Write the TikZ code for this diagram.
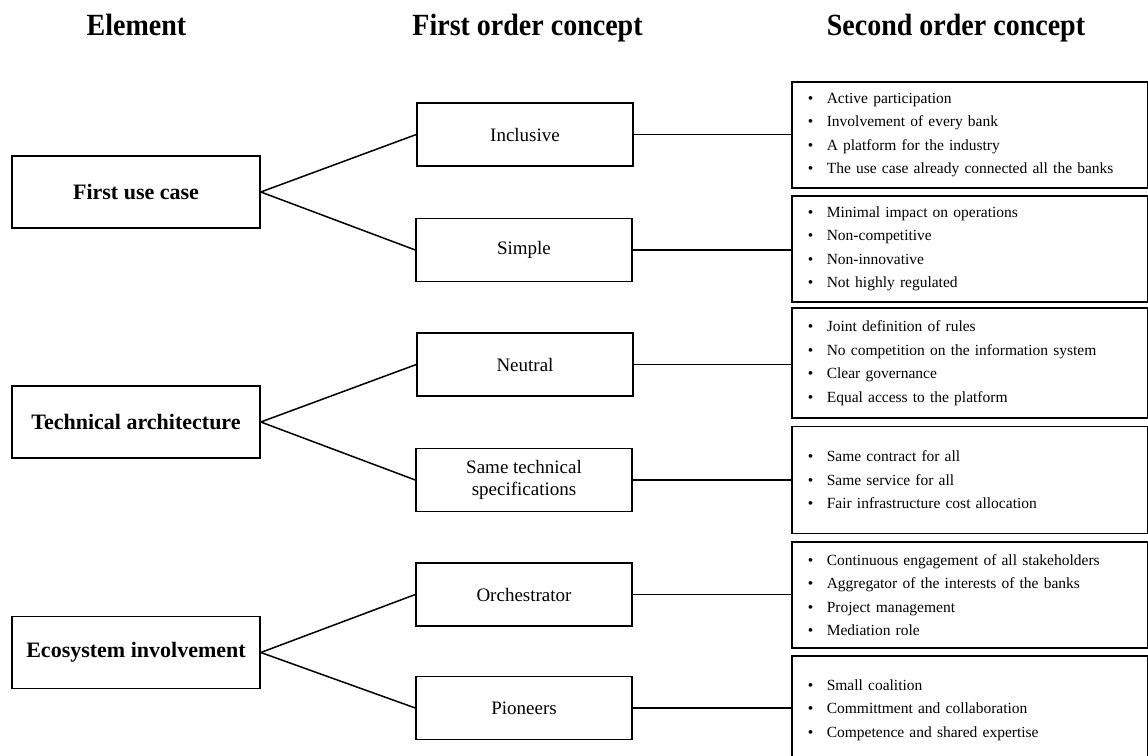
\documentclass[tikz,border=0pt]{standalone}
\usepackage{fontspec}
\setmainfont{Liberation Serif}
\newcommand\bul{\makebox[19pt][l]{\textbullet}}
\newcommand\tallhead[1]{\scalebox{1}[1.1]{#1}}
\begin{document}
\begin{tikzpicture}[x=1pt,y=-1pt,
 elem/.style={draw, line width=1.6pt, minimum width=248pt, minimum height=72pt, inner sep=0pt, font=\fontsize{22}{26}\selectfont\bfseries},
 first/.style={draw, line width=1.4pt, minimum width=216pt, minimum height=63pt, inner sep=0pt, align=center, font=\fontsize{19}{21.5}\selectfont},
 second/.style={draw, line width=1.6pt, anchor=west, text width=324pt, inner xsep=16pt, inner ysep=0pt, align=left, font=\fontsize{15.5}{23.5}\selectfont},
 head/.style={font=\fontsize{28}{32}\selectfont\bfseries, anchor=base},
 link/.style={line width=1.5pt}]
\clip (0,0) rectangle (1148,755);
\fill[white] (0,0) rectangle (1148,755);
% headers
\node[head] (h1) at (136.5,35) {\tallhead{Element}};
\node[head] (h2) at (527.5,35) {\tallhead{First order concept}};
\node[head] (h3) at (956,35) {\tallhead{Second order concept}};
% elements
\node[elem] (e1) at (136,192) {First use case};
\node[elem] (e2) at (136,422) {Technical architecture};
\node[elem] (e3) at (136,652.5) {Ecosystem involvement};
% first order
\node[first] (f1) at (525,134.5) {Inclusive};
\node[first] (f2) at (524,250) {Simple};
\node[first] (f3) at (525,364.5) {Neutral};
\node[first] (f4) at (524,480) {Same technical\\specifications};
\node[first] (f5) at (524,594.5) {Orchestrator};
\node[first] (f6) at (524,708) {Pioneers};
% second order
\node[second, minimum height=106pt] (s1) at (791,135) {\bul Active participation\\\bul Involvement of every bank\\\bul A platform for the industry\\\bul The use case already connected all the banks};
\node[second, minimum height=106pt] (s2) at (791,249) {\bul Minimal impact on operations\\\bul Non-competitive\\\bul Non-innovative\\\bul Not highly regulated};
\node[second, minimum height=110pt] (s3) at (791,363) {\bul Joint definition of rules\\\bul No competition on the information system\\\bul Clear governance\\\bul Equal access to the platform};
\node[second, minimum height=107pt] (s4) at (791,480) {\bul Same contract for all\\\bul Same service for all\\\bul Fair infrastructure cost allocation};
\node[second, minimum height=106pt] (s5) at (791,595) {\bul Continuous engagement of all stakeholders\\\bul Aggregator of the interests of the banks\\\bul Project management\\\bul Mediation role};
\node[second, minimum height=108pt] (s6) at (791,710) {\bul Small coalition\\\bul Committment and collaboration\\\bul Competence and shared expertise};
% connectors
\draw[link] (e1.east) -- (f1.west);
\draw[link] (e1.east) -- (f2.west);
\draw[link] (e2.east) -- (f3.west);
\draw[link] (e2.east) -- (f4.west);
\draw[link] (e3.east) -- (f5.west);
\draw[link] (e3.east) -- (f6.west);
\draw[link] (f1.east) -- (f1.east -| s1.west);
\draw[link] (f2.east) -- (f2.east -| s2.west);
\draw[link] (f3.east) -- (f3.east -| s3.west);
\draw[link] (f4.east) -- (f4.east -| s4.west);
\draw[link] (f5.east) -- (f5.east -| s5.west);
\draw[link] (f6.east) -- (f6.east -| s6.west);
\end{tikzpicture}
\end{document}
